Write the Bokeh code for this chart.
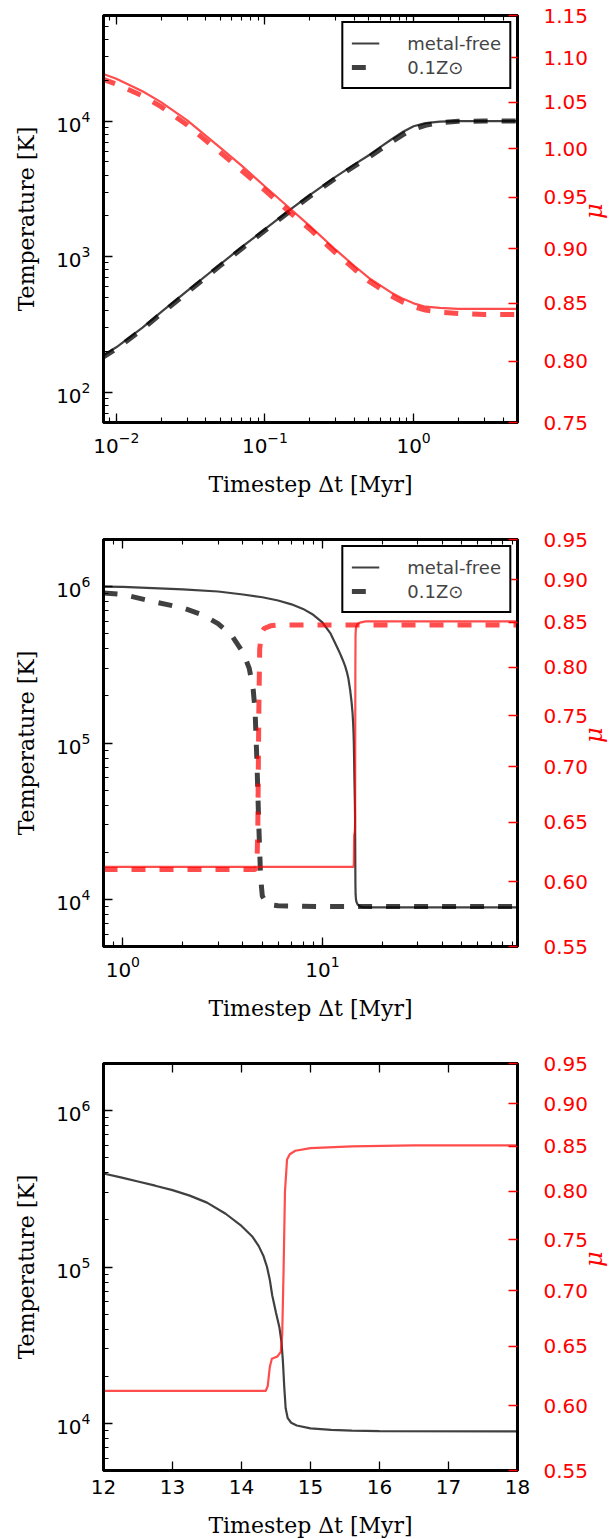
import math
import numpy as np
from bokeh.plotting import figure
from bokeh.models import (Range1d, LinearAxis, LogAxis, Legend, LegendItem,
                          FixedTicker, PrintfTickFormatter, CustomJSTickFormatter)
from bokeh.layouts import column
from bokeh.embed import file_html
from bokeh.resources import INLINE

# ---------------- Panel 1 data (short timesteps) ----------------
p1_dt = [0.008, 0.01, 0.015, 0.02, 0.03, 0.05, 0.07, 0.1, 0.15, 0.2, 0.3, 0.4,
         0.5, 0.6, 0.7, 0.85, 1.0, 1.2, 1.5, 2.0, 3.0, 5.0]
p1_T_free = [185, 215, 300, 390, 560, 880, 1180, 1600, 2250, 2850, 3900, 4800,
             5600, 6450, 7250, 8350, 9150, 9650, 9900, 10000, 10000, 10000]
p1_T_z01 = [180, 210, 292, 380, 545, 860, 1150, 1560, 2200, 2780, 3800, 4650,
            5400, 6200, 6950, 7950, 8700, 9300, 9750, 9950, 10000, 10000]
p1_mu_free = [1.082, 1.076, 1.062, 1.050, 1.030, 1.001, 0.982, 0.961, 0.938,
              0.922, 0.899, 0.884, 0.873, 0.866, 0.860, 0.854, 0.850, 0.847,
              0.846, 0.845, 0.845, 0.845]
p1_mu_z01 = [1.076, 1.070, 1.057, 1.045, 1.025, 0.996, 0.977, 0.957, 0.934,
             0.919, 0.896, 0.881, 0.870, 0.863, 0.857, 0.851, 0.847, 0.844,
             0.842, 0.841, 0.840, 0.840]
p1_mu_ticks = [0.75, 0.80, 0.85, 0.90, 0.95, 1.00, 1.05, 1.10, 1.15]

# ---------------- Panel 2 / 3 data (long timesteps) ----------------
free_dt = [0.8, 1, 2, 3, 4, 5, 6, 7, 8, 9, 10, 11, 12, 12.25, 12.5, 12.75, 13.0,
           13.25, 13.5, 13.77, 14.0, 14.16, 14.25, 14.32, 14.37, 14.41, 14.445,
           14.50, 14.55, 14.58, 14.60, 14.62, 14.64, 14.67, 14.72, 14.8, 15.0,
           15.3, 15.6, 16.0, 18.0, 30, 95]
free_T = [1.0e6, 0.995e6, 0.96e6, 0.93e6, 0.89e6, 0.855e6, 0.815e6, 0.77e6,
          0.72e6, 0.66e6, 0.59e6, 0.50e6, 3.96e5, 3.74e5, 3.52e5, 3.31e5, 3.1e5,
          2.86e5, 2.58e5, 2.19e5, 1.83e5, 1.56e5, 1.36e5, 1.17e5, 1.0e5, 8.3e4,
          6.6e4, 5.1e4, 4.1e4, 3.3e4, 2.5e4, 1.7e4, 1.25e4, 1.08e4, 1.01e4, 9.7e3,
          9.3e3, 9.08e3, 8.98e3, 8.93e3, 8.9e3, 8.9e3, 8.9e3]
free_mu_dt = [0.8, 5, 10, 12, 14.35, 14.38, 14.41, 14.44, 14.52, 14.57, 14.59,
              14.61, 14.63, 14.66, 14.7, 14.78, 15.0, 15.6, 16.5, 18, 95]
free_mu = [0.612, 0.612, 0.612, 0.612, 0.612, 0.616, 0.632, 0.639, 0.641, 0.645,
           0.660, 0.720, 0.800, 0.835, 0.841, 0.845, 0.848, 0.850, 0.851, 0.851,
           0.851]
z01_dt = [0.8, 1.0, 1.5, 2.0, 2.5, 3.0, 3.5, 4.0, 4.3, 4.5, 4.6, 4.7, 4.8, 4.9,
          5.0, 5.3, 6, 10, 95]
z01_T = [9.1e5, 8.9e5, 7.9e5, 7.3e5, 6.6e5, 5.8e5, 4.9e5, 3.8e5, 3.0e5, 2.2e5,
         1.6e5, 7.5e4, 3.0e4, 1.4e4, 1.05e4, 9.3e3, 9.1e3, 9.0e3, 9.0e3]
z01_mu_dt = [0.8, 4.6, 4.7, 4.75, 4.8, 4.85, 4.95, 5.1, 5.5, 6, 95]
z01_mu = [0.610, 0.610, 0.612, 0.65, 0.75, 0.82, 0.838, 0.843, 0.846, 0.847, 0.847]
p23_mu_ticks = [0.55, 0.60, 0.65, 0.70, 0.75, 0.80, 0.85, 0.90, 0.95]
p3_x_ticks = [12, 13, 14, 15, 16, 17, 18]

BLACK = "black"
RED = "red"
TICK_FONT = "DejaVu Sans"
LABEL_FONT = "DejaVu Serif"


def style_axis(ax, color="black", minor=True):
    ax.major_tick_in = 9
    ax.major_tick_out = 0
    ax.minor_tick_in = 5 if minor else 0
    ax.minor_tick_out = 0
    ax.major_tick_line_color = color
    ax.minor_tick_line_color = color if minor else None
    ax.major_tick_line_width = 1.3
    ax.minor_tick_line_width = 1.1
    ax.axis_line_color = "black"
    ax.axis_line_width = 3
    ax.major_label_text_font = TICK_FONT
    ax.major_label_text_font_size = "20px"
    ax.major_label_text_color = color
    ax.axis_label_text_font = LABEL_FONT
    ax.axis_label_text_font_style = "normal"
    ax.axis_label_text_font_size = "22px"
    ax.axis_label_text_color = color


def make_panel(x_type, xr, yr, mur, mu_ticks, border_bottom, x_ticks=None):
    p = figure(x_axis_type=x_type, y_axis_type="log",
               x_range=Range1d(*xr), y_range=Range1d(*yr),
               frame_width=414, frame_height=407,
               min_border_left=103, min_border_right=93,
               min_border_top=15, min_border_bottom=border_bottom,
               output_backend="svg", toolbar_location=None)
    p.xgrid.visible = False
    p.ygrid.visible = False
    p.outline_line_color = "black"
    p.outline_line_width = 3
    p.outline_line_alpha = 1
    p.background_fill_color = "white"
    p.border_fill_color = "white"

    xa = p.xaxis[0]
    if x_ticks is not None:
        xa.ticker = FixedTicker(ticks=x_ticks)
    style_axis(xa, minor=(x_type == "log"))
    xa.axis_label = "Timestep \u0394t [Myr]"
    xa.major_label_standoff = 9
    xa.axis_label_standoff = 16

    ya = p.yaxis[0]
    style_axis(ya)
    ya.axis_label = "Temperature [K]"
    ya.major_label_standoff = 13
    ya.axis_label_standoff = 14

    # mirrored ticks on top
    if x_type == "log":
        top = LogAxis(ticker=xa.ticker)
    else:
        top = LinearAxis(ticker=xa.ticker)
    style_axis(top, minor=(x_type == "log"))
    top.formatter = CustomJSTickFormatter(code="return ''")
    top.major_label_standoff = 0
    p.add_layout(top, "above")

    # mu axis on the right
    p.extra_y_ranges = {"mu": Range1d(*mur)}
    ra = LinearAxis(y_range_name="mu", ticker=FixedTicker(ticks=mu_ticks),
                    formatter=PrintfTickFormatter(format="%.2f"))
    style_axis(ra, color=RED, minor=False)
    ra.axis_line_color = "black"
    ra.major_label_standoff = 26
    ra.axis_label = "\u03bc"
    ra.axis_label_text_font_style = "italic"
    ra.axis_label_text_font_size = "24px"
    ra.axis_label_standoff = 3
    ra.axis_label_orientation = math.pi / 2
    p.add_layout(ra, "right")
    return p


# ---------------- Panel 1 ----------------
p1 = make_panel("log", (0.0082, 5.0), (60, 6e4), (0.75, 1.15), p1_mu_ticks, 102)
b1 = p1.line(p1_dt, p1_T_free, line_color=BLACK, line_alpha=0.75, line_width=2.2)
b2 = p1.line(p1_dt, p1_T_z01, line_color=BLACK, line_alpha=0.75, line_width=5,
             line_dash="14 14")
p1.line(p1_dt, p1_mu_free, y_range_name="mu", line_color=RED, line_alpha=0.7,
        line_width=2.2)
p1.line(p1_dt, p1_mu_z01, y_range_name="mu", line_color=RED, line_alpha=0.7,
        line_width=5, line_dash="14 14")

# ---------------- Panel 2 ----------------
p2 = make_panel("log", (0.8, 95.0), (5e3, 2e6), (0.55, 0.95), p23_mu_ticks, 102)
c1 = p2.line(free_dt, free_T, line_color=BLACK, line_alpha=0.75, line_width=2.2)
c2 = p2.line(z01_dt, z01_T, line_color=BLACK, line_alpha=0.75, line_width=5,
             line_dash="14 14")
p2.line(free_mu_dt, free_mu, y_range_name="mu", line_color=RED, line_alpha=0.7,
        line_width=2.2)
p2.line(z01_mu_dt, z01_mu, y_range_name="mu", line_color=RED, line_alpha=0.7,
        line_width=5, line_dash="14 14")

# ---------------- Panel 3 ----------------
p3 = make_panel("linear", (12, 18), (5e3, 2e6), (0.55, 0.95), p23_mu_ticks, 69,
                x_ticks=p3_x_ticks)
p3.line(free_dt, free_T, line_color=BLACK, line_alpha=0.75, line_width=2.2)
p3.line(free_mu_dt, free_mu, y_range_name="mu", line_color=RED, line_alpha=0.7,
        line_width=2.2)


def add_legend(p, r_solid, r_dash):
    leg = Legend(items=[LegendItem(label="metal-free", renderers=[r_solid]),
                        LegendItem(label="0.1Z\u2299", renderers=[r_dash])],
                 location="top_right")
    leg.margin = 6
    leg.padding = 8
    leg.spacing = 0
    leg.glyph_width = 28
    leg.glyph_height = 24
    leg.label_height = 24
    leg.label_standoff = 28
    leg.label_text_font = TICK_FONT
    leg.label_text_font_size = "18px"
    leg.border_line_color = "black"
    leg.border_line_width = 2.5
    leg.border_line_alpha = 1
    leg.background_fill_alpha = 1
    p.add_layout(leg)


add_legend(p1, b1, b2)
add_legend(p2, c1, c2)

layout = column(p1, p2, p3, spacing=0)
open("out.html", "w").write(file_html(layout, INLINE))
